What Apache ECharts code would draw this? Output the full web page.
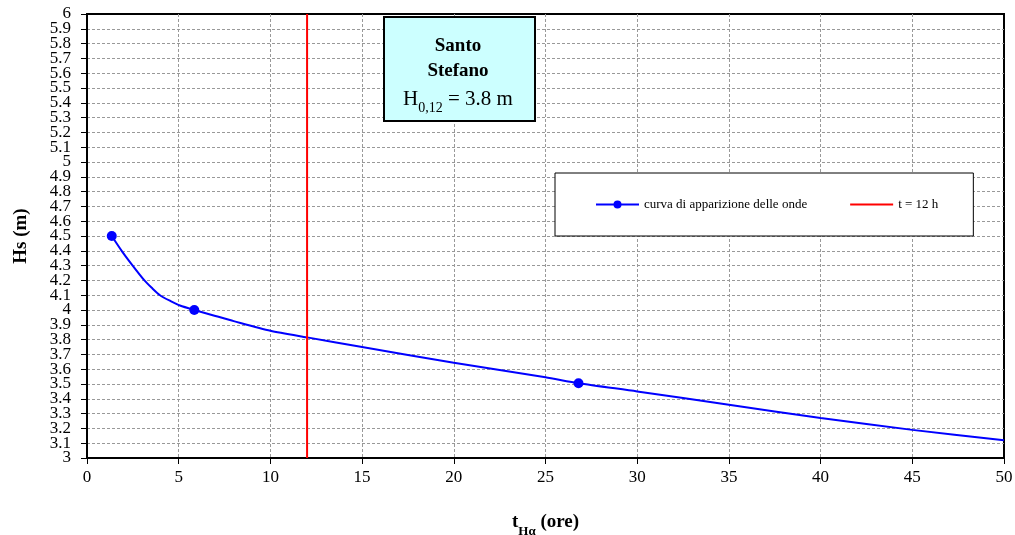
<!DOCTYPE html>
<html>
<head>
<meta charset="utf-8">
<script src="https://cdn.jsdelivr.net/npm/echarts@6/dist/echarts.min.js"></script>
<style>
html,body{margin:0;padding:0;background:#fff;}
#c{width:1015px;height:535px;}
</style>
</head>
<body>
<div id="c"></div>
<script>
// Data
const curveX = [1.35, 1.89, 2.49, 3.13, 3.53, 3.98, 4.56, 5.07, 5.85, 7, 8, 10, 12, 15, 20, 25, 26.8, 30, 35, 40, 45, 50];
const curveY = [4.5, 4.4, 4.3, 4.2, 4.15, 4.1, 4.06, 4.03, 4.0, 3.96, 3.925, 3.86, 3.815, 3.75, 3.643, 3.545, 3.505, 3.45, 3.36, 3.27, 3.19, 3.12];
const markX = [1.35, 5.85, 26.8];
const t12X = [12, 12];
const t12Y = [3, 6];
const seriesNames = ['curva di apparizione delle onde', 't = 12 h'];
const boxTitle = 'Santo\nStefano';
const boxValue = { main: 'H', sub: '0,12', rest: ' = 3.8 m' };
const yMin = 3, yMax = 6, yStep = 0.1;
const xMin = 0, xMax = 50, xStep = 5;

const FONT = '"Liberation Serif", "Times New Roman", serif';

const curveData = curveX.map((x, i) => {
  const item = { value: [x, curveY[i]] };
  if (markX.indexOf(x) < 0) item.symbol = 'none';
  return item;
});

const yLabelStyle = { fontFamily: FONT, fontSize: 17, lineHeight: 12, color: '#000', margin: 16 };

const chart = echarts.init(document.getElementById('c'));
chart.setOption({
  animation: false,
  backgroundColor: '#fff',
  textStyle: { fontFamily: FONT },
  grid: { left: 87, right: 11, top: 14, bottom: 77, outerBoundsMode: 'none', containLabel: false,
          show: true, borderColor: '#000', borderWidth: 2, backgroundColor: 'transparent' },
  legend: {
    left: 555, top: 173,
    padding: [25, 35, 25, 40],
    itemGap: 42,
    itemWidth: 43, itemHeight: 10,
    borderColor: '#000', borderWidth: 1, backgroundColor: '#fff',
    textStyle: { fontFamily: FONT, fontSize: 13, color: '#000' },
    data: [
      { name: seriesNames[0] },
      { name: seriesNames[1], itemStyle: { opacity: 0 } }
    ]
  },
  xAxis: {
    type: 'value', min: xMin, max: xMax, interval: xStep,
    name: '{b|t}{s|Hα}{b| (ore)}',
    nameLocation: 'middle', nameGap: 50,
    nameTextStyle: {
      rich: {
        b: { fontFamily: FONT, fontSize: 19, fontWeight: 'bold', color: '#000', lineHeight: 24, verticalAlign: 'bottom' },
        s: { fontFamily: FONT, fontSize: 13, fontWeight: 'bold', color: '#000', lineHeight: 24, verticalAlign: 'bottom', padding: [0, 0, -6, 0] }
      }
    },
    axisLine: { lineStyle: { color: '#000', width: 2 } },
    axisTick: { show: true, inside: false, length: 6, lineStyle: { color: '#000' } },
    axisLabel: { fontFamily: FONT, fontSize: 17, color: '#000', margin: 11, showMinLabel: true, showMaxLabel: true },
    splitLine: { show: true, showMinLine: false, showMaxLine: false, lineStyle: { color: '#999', type: [3, 2], width: 1 } }
  },
  yAxis: [
    {
      type: 'value', min: yMin, max: yMax, interval: yStep,
      name: 'Hs (m)',
      nameLocation: 'middle', nameGap: 56, nameRotate: 90,
      nameTextStyle: { fontFamily: FONT, fontSize: 19, fontWeight: 'bold', color: '#000' },
      axisLine: { show: true, lineStyle: { color: '#000', width: 2 } },
      axisTick: { show: true, inside: false, length: 6, lineStyle: { color: '#000' } },
      axisLabel: Object.assign({ showMinLabel: false, showMaxLabel: false, hideOverlap: false, formatter: v => String(+v.toFixed(1)) }, yLabelStyle),
      splitLine: { show: true, showMinLine: false, showMaxLine: false, lineStyle: { color: '#999', type: [3, 2], width: 1 } }
    },
    {
      // extra axis showing only the end labels (3 and 6) with their ticks
      type: 'value', min: yMin, max: yMax, interval: yMax - yMin, position: 'left', offset: 0,
      axisLine: { show: false },
      axisTick: { show: true, inside: false, length: 6, lineStyle: { color: '#000' } },
      axisLabel: Object.assign({ showMinLabel: true, showMaxLabel: true, formatter: v => String(+v.toFixed(1)) }, yLabelStyle),
      splitLine: { show: false }
    }
  ],
  series: [
    {
      name: seriesNames[0], type: 'line',
      data: curveData,
      smooth: 0.25,
      symbol: 'circle', symbolSize: 10, showAllSymbol: true,
      itemStyle: { color: '#0000ff' },
      lineStyle: { color: '#0000ff', width: 2 },
      z: 3
    },
    {
      name: seriesNames[1], type: 'line',
      data: t12X.map((x, i) => [x, t12Y[i]]),
      symbol: 'none',
      itemStyle: { color: '#ff0000' },
      lineStyle: { color: '#ff0000', width: 2 },
      z: 4
    }
  ],
  graphic: [
    {
      type: 'rect', left: 383, top: 16, z: 10,
      shape: { width: 151, height: 104 },
      style: { fill: '#ccffff', stroke: '#000', lineWidth: 2 }
    },
    {
      type: 'text', z: 11, x: 458, y: 34,
      style: {
        text: boxTitle, align: 'center', verticalAlign: 'top',
        fontFamily: FONT, fontSize: 19, fontWeight: 'bold', fill: '#000', lineHeight: 25
      }
    },
    {
      type: 'text', z: 11, x: 458, y: 84,
      style: {
        text: '{n|' + boxValue.main + '}{s|' + boxValue.sub + '}{n|' + boxValue.rest + '}',
        align: 'center', verticalAlign: 'top',
        rich: {
          n: { fontFamily: FONT, fontSize: 21, fill: '#000', lineHeight: 26, verticalAlign: 'bottom' },
          s: { fontFamily: FONT, fontSize: 14, fill: '#000', lineHeight: 26, verticalAlign: 'bottom', padding: [0, 0, -5, 0] }
        }
      }
    }
  ]
});
</script>
</body>
</html>
